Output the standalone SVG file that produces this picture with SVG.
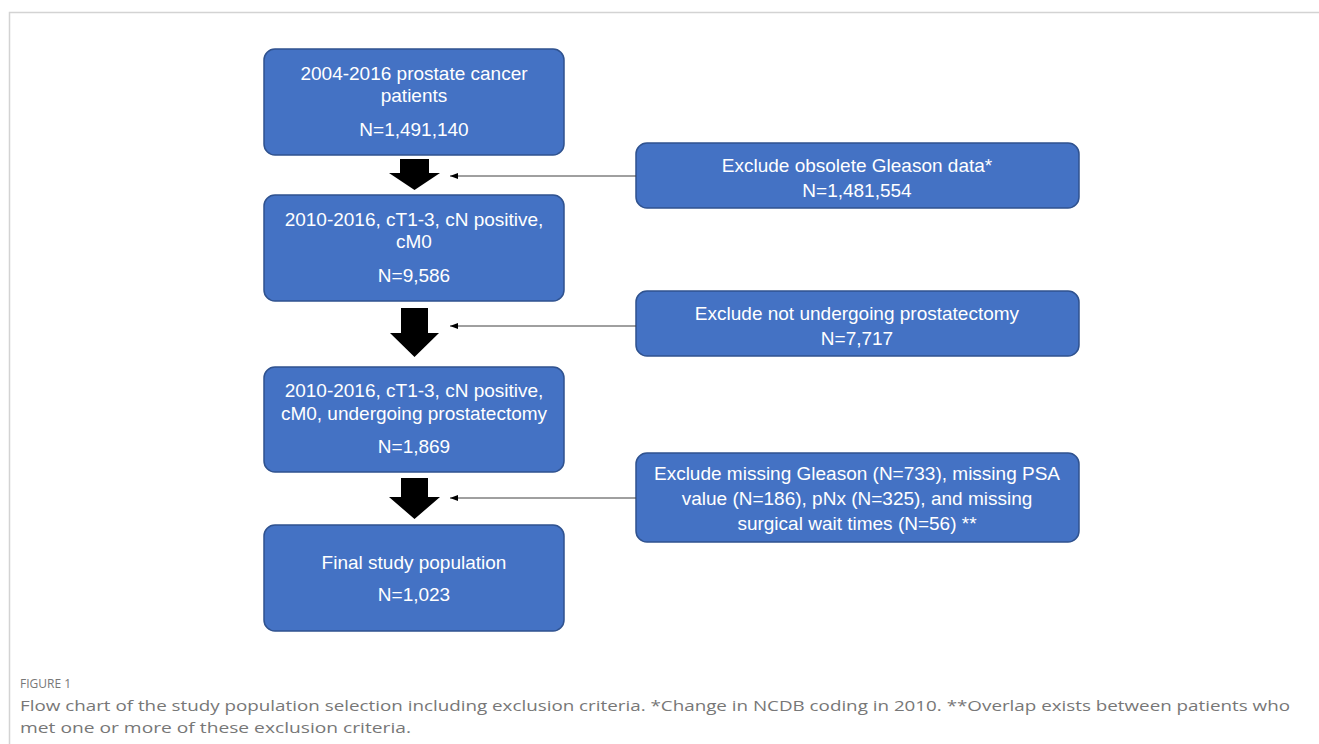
<svg xmlns="http://www.w3.org/2000/svg" width="1319" height="744" viewBox="0 0 1319 744">
<defs>
<style>
.box{fill:#4472C4;stroke:#2F528F;stroke-width:1.5}
.t{font-family:"Liberation Sans",Arial,sans-serif;font-size:19px;fill:#ffffff;text-anchor:middle}
.blk{fill:#000000}
.ln{stroke:#404040;stroke-width:1;fill:none;marker-end:url(#ah)}
.cap{font-family:"Open Sans","Liberation Sans",sans-serif;fill:#777777}
</style>
<marker id="ah" markerWidth="8" markerHeight="6" refX="8" refY="3" orient="auto" markerUnits="userSpaceOnUse">
<path d="M0,0 L8,3 L0,6 Z" fill="#000000"/>
</marker>
</defs>
<rect width="1319" height="744" fill="#ffffff"/>
<path d="M9.5,744 V12.5 H1319" fill="none" stroke="#d3d3d3" stroke-width="1.5"/>

<g id="n1">
<rect class="box" x="264" y="49" width="300" height="106" rx="11"/>
<text class="t" x="414" y="80">2004-2016 prostate cancer</text>
<text class="t" x="414" y="102">patients</text>
<text class="t" x="414" y="136">N=1,491,140</text>
</g>
<g id="n2">
<rect class="box" x="264" y="195" width="300" height="106" rx="11"/>
<text class="t" x="414" y="226">2010-2016, cT1-3, cN positive,</text>
<text class="t" x="414" y="248">cM0</text>
<text class="t" x="414" y="282">N=9,586</text>
</g>
<g id="n3">
<rect class="box" x="264" y="367" width="300" height="105" rx="11"/>
<text class="t" x="414" y="397">2010-2016, cT1-3, cN positive,</text>
<text class="t" x="414" y="420">cM0, undergoing prostatectomy</text>
<text class="t" x="414" y="453">N=1,869</text>
</g>
<g id="n4">
<rect class="box" x="264" y="525" width="300" height="106" rx="11"/>
<text class="t" x="414" y="569">Final study population</text>
<text class="t" x="414" y="601">N=1,023</text>
</g>
<g id="e1">
<rect class="box" x="636" y="143" width="443" height="65" rx="11"/>
<text class="t" x="857" y="172">Exclude obsolete Gleason data*</text>
<text class="t" x="857" y="197">N=1,481,554</text>
</g>
<g id="e2">
<rect class="box" x="636" y="291" width="443" height="65" rx="11"/>
<text class="t" x="857" y="320">Exclude not undergoing prostatectomy</text>
<text class="t" x="857" y="345">N=7,717</text>
</g>
<g id="e3">
<rect class="box" x="636" y="453" width="443" height="89" rx="11"/>
<text class="t" x="857" y="480">Exclude missing Gleason (N=733), missing PSA</text>
<text class="t" x="857" y="505">value (N=186), pNx (N=325), and missing</text>
<text class="t" x="857" y="530">surgical wait times (N=56) **</text>
</g>

<g id="connectors">
<path class="blk" d="M400,159 H429 V173 H440 L414.5,190 L389,173 H400 Z"/>
<path class="blk" d="M401,308 H428 V333 H439 L414.5,357 L390,333 H401 Z"/>
<path class="blk" d="M401,478 H428 V497 H440 L414.5,519 L389,497 H401 Z"/>
<line class="ln" x1="636" y1="176" x2="450" y2="176"/>
<line class="ln" x1="636" y1="326" x2="450" y2="326"/>
<line class="ln" x1="636" y1="498" x2="450" y2="498"/>
</g>

<text class="cap" x="20" y="688" font-size="12">FIGURE 1</text>
<text class="cap" x="20" y="711" font-size="15" textLength="1270" lengthAdjust="spacingAndGlyphs">Flow chart of the study population selection including exclusion criteria. *Change in NCDB coding in 2010. **Overlap exists between patients who</text>
<text class="cap" x="20" y="733" font-size="15" textLength="391" lengthAdjust="spacingAndGlyphs">met one or more of these exclusion criteria.</text>
</svg>
